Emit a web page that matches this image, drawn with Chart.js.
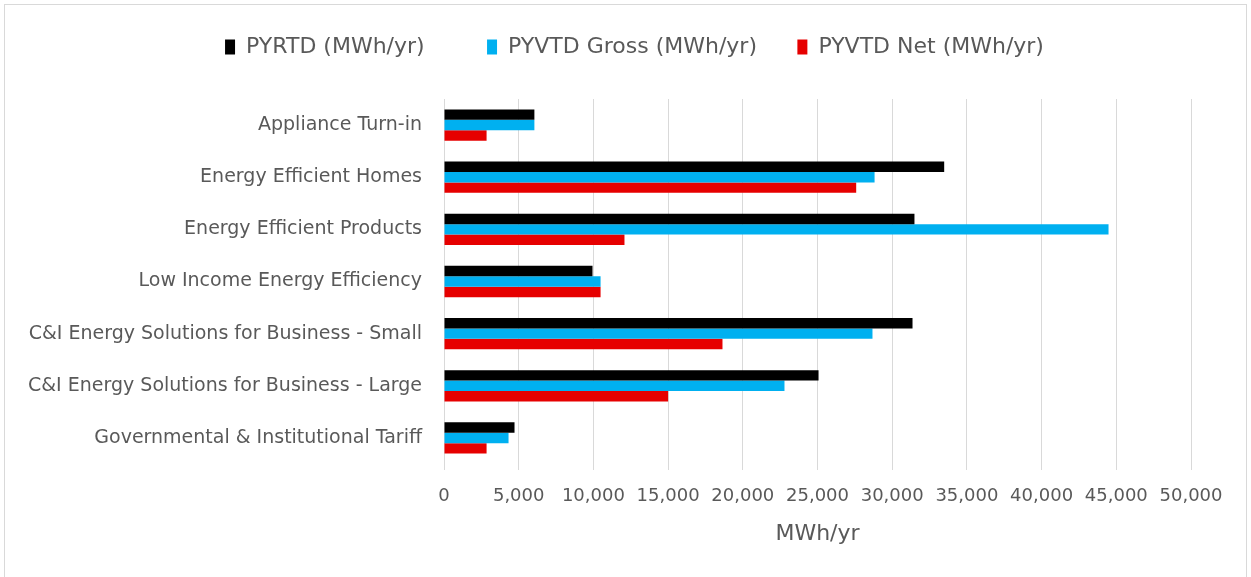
<!DOCTYPE html>
<html>
<head>
<meta charset="utf-8">
<script src="https://cdn.jsdelivr.net/npm/chart.js@4"></script>
<style>
html,body{margin:0;padding:0;background:#fff;}
#wrap{position:relative;width:1251px;height:577px;overflow:hidden;}
#frame{position:absolute;left:4px;top:4px;width:1243px;height:580px;border:1px solid #d9d9d9;box-sizing:border-box;}
canvas{position:absolute;left:0;top:0;}
</style>
</head>
<body>
<div id="wrap">
<div id="frame"></div>
<canvas id="savingsChart" width="1251" height="577"></canvas>
</div>
<script>

// Program savings (MWh/yr)

const programs=[
'Appliance Turn-in',
'Energy Efficient Homes',
'Energy Efficient Products',
'Low Income Energy Efficiency',
'C&I Energy Solutions for Business - Small',
'C&I Energy Solutions for Business - Large',
'Governmental & Institutional Tariff'
];

const pyrtd=[6050,33480,31490,9940,31360,25070,4720];
const pyvtdGross=[6050,28820,44480,10480,28680,22790,4320];
const pyvtdNet=[2850,27590,12080,10480,18640,15000,2850];

const seriesNames=['PYRTD (MWh/yr)','PYVTD Gross (MWh/yr)','PYVTD Net (MWh/yr)'];
const axisTicks=[0,5000,10000,15000,20000,25000,30000,35000,40000,45000,50000];

const textColor='#595959';
const gridColor='#d9d9d9';
const fontFamily="'DejaVu Sans', sans-serif";

// extra room after each legend entry, and nudge of the whole legend
const legendTail=['\u2003\u2009','\u2009',''];
const legendShift=34;

// legend takes the whole band above the plot
const legendRoom={
id:'legendRoom',
beforeInit(chart){
const legend=chart.legend;
if(!legend)return;
const fit=legend.fit;
legend.fit=function(){fit.call(this);this.height=99;};
const draw=legend._draw;
legend._draw=function(){
this.ctx.save();
this.ctx.translate(legendShift,0);
draw.call(this);
this.ctx.restore();
};
}
};

const savingsChart=document.getElementById("savingsChart");

if(savingsChart){

new Chart(savingsChart,{

type:'bar',

data:{
labels:programs,
datasets:[
{label:seriesNames[0],data:pyrtd,backgroundColor:'#000000'},
{label:seriesNames[1],data:pyvtdGross,backgroundColor:'#00b0f0'},
{label:seriesNames[2],data:pyvtdNet,backgroundColor:'#e60000'}
]
},

plugins:[legendRoom],

options:{
indexAxis:'y',
responsive:false,
animation:false,
datasets:{bar:{categoryPercentage:0.6,barPercentage:1.0}},
layout:{padding:{left:10,right:60,top:0,bottom:15}},
plugins:{
tooltip:{enabled:false},
legend:{
position:'top',
labels:{
color:textColor,
font:{family:fontFamily,size:22},
boxWidth:10,
boxHeight:15,
padding:36,
generateLabels(chart){
const items=Chart.defaults.plugins.legend.labels.generateLabels(chart);
items.forEach((it,i)=>{it.text+=legendTail[i];});
return items;
}
}
}
},
scales:{
x:{
min:0,
max:50000,
afterBuildTicks(scale){scale.ticks=axisTicks.map(v=>({value:v}));},
afterFit(scale){scale.height=98;},
grid:{color:gridColor,lineWidth:1,drawTicks:true,tickLength:6,tickColor:gridColor},
border:{display:false},
ticks:{
color:textColor,
font:{family:fontFamily,size:18},
padding:16,
callback:v=>v.toLocaleString('en-US')
},
title:{
display:true,
text:'MWh/yr',
color:textColor,
font:{family:fontFamily,size:22},
padding:{top:0,bottom:15}
}
},
y:{
afterFit(scale){scale.width=434;},
grid:{display:false,drawTicks:false},
border:{display:false},
ticks:{
color:textColor,
font:{family:fontFamily,size:19},
padding:22
}
}
}
}

});

}

</script>
</body>
</html>
